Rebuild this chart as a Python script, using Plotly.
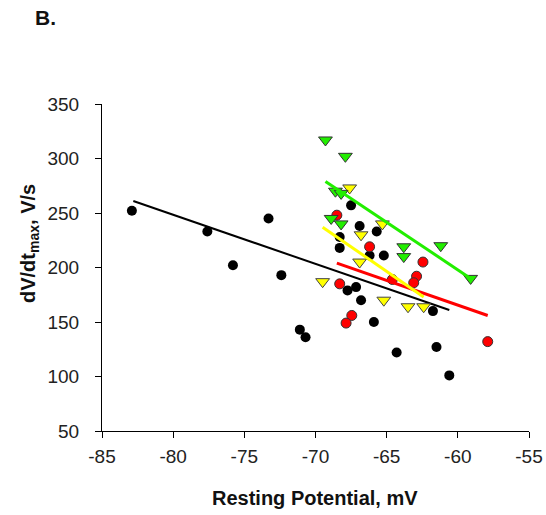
import plotly.graph_objects as go

# Black circles
black_x = [-82.9, -77.6, -75.8, -73.3, -72.4, -71.1, -70.7, -68.3, -68.3, -67.5, -66.9,
           -65.7, -66.2, -65.2, -67.75, -67.15, -66.8, -65.9, -64.3, -61.75, -61.5, -60.6]
black_y = [252, 233, 202, 245, 193, 143, 136, 228, 218, 257, 238,
           233, 211, 211, 179, 182, 170, 150, 122, 160, 127, 101]

# Red circles
red_x = [-68.5, -66.2, -62.45, -62.9, -63.1, -64.6, -68.3, -67.45, -67.85, -57.9]
red_y = [248, 219, 205, 192, 186, 189, 185, 156, 149, 132]

# Yellow triangles
yellow_x = [-69.5, -67.6, -66.8, -66.9, -65.3, -65.2, -63.5, -62.4]
yellow_y = [187, 273, 230, 205, 240, 170, 164, 164]

# Green triangles
green_x = [-69.3, -67.9, -68.6, -68.2, -68.9, -68.2, -63.8, -63.8, -61.2, -59.1]
green_y = [317, 302, 270, 268, 245, 240, 219, 210, 220, 190]

# Trend line endpoints
black_fit_x = [-82.8, -60.6]
black_fit_y = [261, 161]
red_fit_x = [-68.5, -57.9]
red_fit_y = [204, 156]
yellow_fit_x = [-69.5, -62.4]
yellow_fit_y = [237, 173]
green_fit_x = [-69.3, -59.1]
green_fit_y = [279, 190]

x_ticks = [-85, -80, -75, -70, -65, -60, -55]
y_ticks = [50, 100, 150, 200, 250, 300, 350]

FONT = "Arial, Liberation Sans, sans-serif"

fig = go.Figure()

fig.add_trace(go.Scatter(x=black_fit_x, y=black_fit_y, mode="lines",
                         line=dict(color="black", width=2), showlegend=False))

fig.add_trace(go.Scatter(x=black_x, y=black_y, mode="markers",
                         marker=dict(symbol="circle", size=10, color="black",
                                     line=dict(color="black", width=0)),
                         showlegend=False))
fig.add_trace(go.Scatter(x=red_x, y=red_y, mode="markers",
                         marker=dict(symbol="circle", size=10, color="#ff0000",
                                     line=dict(color="#333333", width=1)),
                         showlegend=False))
fig.add_trace(go.Scatter(x=yellow_x, y=yellow_y, mode="markers",
                         marker=dict(symbol="triangle-down", size=12, color="#ffff00",
                                     line=dict(color="#444444", width=1)),
                         showlegend=False))
fig.add_trace(go.Scatter(x=green_x, y=green_y, mode="markers",
                         marker=dict(symbol="triangle-down", size=12, color="#22ee00",
                                     line=dict(color="#333333", width=1)),
                         showlegend=False))

fig.add_trace(go.Scatter(x=red_fit_x, y=red_fit_y, mode="lines",
                         line=dict(color="#ff0000", width=3), showlegend=False))
fig.add_trace(go.Scatter(x=yellow_fit_x, y=yellow_fit_y, mode="lines",
                         line=dict(color="#ffff00", width=3), showlegend=False))
fig.add_trace(go.Scatter(x=green_fit_x, y=green_fit_y, mode="lines",
                         line=dict(color="#22ee00", width=3), showlegend=False))

L, R, T, B = 102, 17, 104, 84
plot_w = 546 - L - R
plot_h = 515 - T - B


def px_x(p):
    return (p - L) / plot_w


def px_y(p):
    return 1 - (p - T) / plot_h


fig.update_layout(
    width=546, height=515,
    margin=dict(l=L, r=R, t=T, b=B, autoexpand=False),
    paper_bgcolor="white", plot_bgcolor="white",
    font=dict(family=FONT, size=19, color="#222222"),
    annotations=[
        dict(text="<b>B.</b>", x=px_x(33), y=px_y(18), xref="paper", yref="paper",
             showarrow=False, font=dict(size=21, color="#111111"),
             xanchor="left", yanchor="middle"),
        dict(text="<b>Resting Potential, mV</b>", x=px_x(315), y=px_y(498),
             xref="paper", yref="paper", showarrow=False,
             font=dict(size=20, color="#111111"), xanchor="center", yanchor="middle"),
        dict(text="<b>dV/dt<sub>max</sub>, V/s</b>", x=px_x(30), y=px_y(244),
             xref="paper", yref="paper", showarrow=False, textangle=-90,
             font=dict(size=20, color="#111111"), xanchor="center", yanchor="middle"),
    ],
)

fig.update_xaxes(range=[-85, -55], tickvals=x_ticks, ticktext=[str(v) for v in x_ticks],
                 showline=True, linecolor="black", linewidth=1,
                 ticks="outside", ticklen=6, tickcolor="black",
                 showgrid=False, zeroline=False, automargin=False,
                 tickfont=dict(size=19), ticklabelstandoff=2)
fig.update_yaxes(range=[50, 350], tickvals=y_ticks, ticktext=[str(v) for v in y_ticks],
                 showline=True, linecolor="black", linewidth=1,
                 ticks="outside", ticklen=6, tickcolor="black",
                 showgrid=False, zeroline=False, automargin=False,
                 tickfont=dict(size=19), ticklabelstandoff=12)

fig.write_html("out.html")
